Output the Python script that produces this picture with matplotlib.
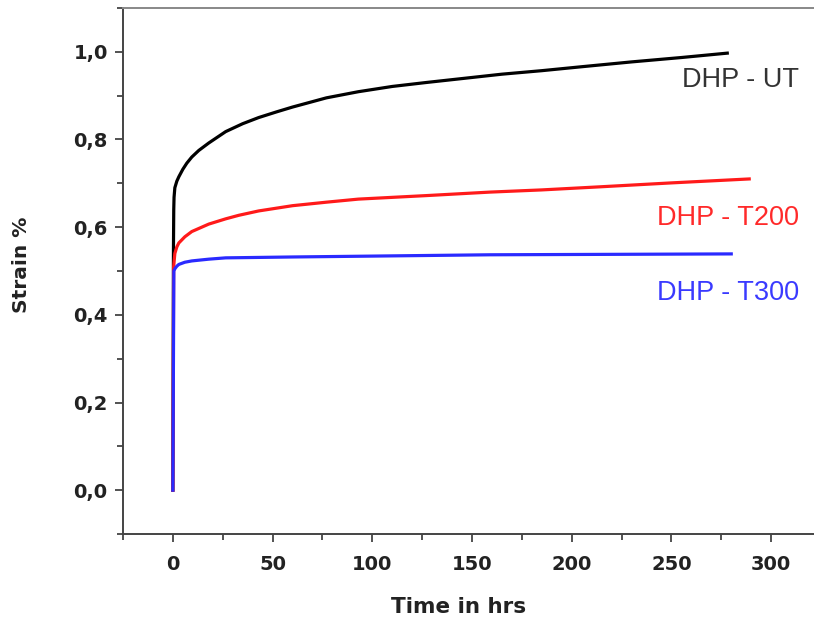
import matplotlib
matplotlib.use("Agg")
import matplotlib.pyplot as plt
from matplotlib.ticker import MultipleLocator, FuncFormatter

# strain curves (time in hrs, strain %)
ut_time = [0, 0.3, 0.45, 0.6, 1, 2, 3, 5, 7, 9.5, 13, 18, 26.5, 35, 43, 52, 60,
           77, 93, 110, 127, 145, 165, 185, 205, 230, 255, 278]
ut_strain = [0, 0.55, 0.64, 0.668, 0.69, 0.705, 0.715, 0.732, 0.746, 0.76, 0.775, 0.792, 0.818, 0.836, 0.85, 0.863, 0.874,
             0.895, 0.909, 0.921, 0.93, 0.939, 0.949, 0.957, 0.966, 0.977, 0.987, 0.997]

t200_time = [0, 0.4, 1, 2, 3, 6, 9.5, 18, 26.5, 33, 43, 60, 77, 93, 110, 127, 139, 159, 185, 214, 250, 289]
t200_strain = [0, 0.51, 0.54, 0.555, 0.564, 0.578, 0.59, 0.607, 0.619, 0.627, 0.637, 0.649, 0.657, 0.664, 0.668, 0.672, 0.675,
               0.68, 0.685, 0.692, 0.701, 0.71]

t300_time = [0, 0.5, 1, 2, 3, 6, 9.5, 18, 26.5, 60, 100, 159, 220, 280]
t300_strain = [0, 0.5, 0.505, 0.511, 0.515, 0.52, 0.523, 0.527, 0.53, 0.532, 0.534, 0.537, 0.538, 0.539]

labels = ["DHP - UT", "DHP - T200", "DHP - T300"]
label_y = [0.936, 0.621, 0.449]

plt.rcParams["font.family"] = ["DejaVu Sans"]

fig = plt.figure(figsize=(8.14, 6.24), dpi=100)
ax = fig.add_axes([0.1511, 0.1442, 0.8575, 0.843])

ax.plot(ut_time, ut_strain, color="black", lw=2.3, solid_joinstyle="round")
ax.plot(t200_time, t200_strain, color="#ff1a1a", lw=2.3, solid_joinstyle="round")
ax.plot(t300_time, t300_strain, color="#2a2aff", lw=2.3, solid_joinstyle="round")

ax.set_xlim(-25, 325)
ax.set_ylim(-0.1, 1.1)

ax.xaxis.set_major_locator(MultipleLocator(50))
ax.xaxis.set_minor_locator(MultipleLocator(25))
ax.yaxis.set_major_locator(MultipleLocator(0.2))
ax.yaxis.set_minor_locator(MultipleLocator(0.1))
ax.yaxis.set_major_formatter(FuncFormatter(lambda v, p: f"{v:.1f}".replace(".", ",")))

ax.tick_params(which="both", direction="out", color="#444444", width=1.3)
ax.tick_params(which="major", length=6, labelsize=14, labelcolor="#222222")
ax.tick_params(axis="y", which="major", pad=5)
ax.tick_params(axis="x", which="major", pad=9)
ax.tick_params(which="minor", length=4)
for lab in ax.get_xticklabels() + ax.get_yticklabels():
    lab.set_fontweight("bold")

for side in ["left", "bottom", "top", "right"]:
    ax.spines[side].set_color("#444444")
    ax.spines[side].set_linewidth(1.4)
ax.spines["top"].set_color("#888888")

ax.set_xlabel("Time in hrs", fontsize=15.5, fontweight="bold", color="#222222", va="center")
ax.set_ylabel("Strain %", fontsize=14.5, fontweight="bold", color="#222222", va="center")
ax.xaxis.set_label_coords(0.481, -0.139)
ax.yaxis.set_label_coords(-0.145, 0.511)

colors = ["#333333", "#ff2a2a", "#3a3aff"]
for txt, yy, c in zip(labels, label_y, colors):
    ax.text(314, yy, txt, color=c, fontsize=19.5, ha="right", va="center",
            family=["Liberation Sans", "DejaVu Sans"])

fig.savefig("out.png", dpi=100)
